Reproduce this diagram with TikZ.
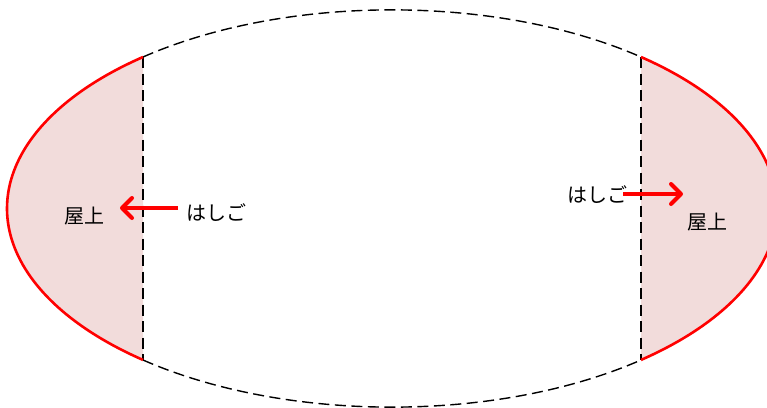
\documentclass[tikz,border=0pt]{standalone}
\usepackage{fontspec}
\newfontfamily\jpfont{Noto Sans CJK JP}
\usetikzlibrary{arrows.meta}
\definecolor{roofpink}{HTML}{F2DCDB}
\definecolor{roofred}{HTML}{FF0000}
\tikzset{
  roofarc/.style={draw=roofred, line width=2.6pt},
  roofzone/.style={fill=roofpink},
  wall/.style={draw=black, line width=1.4pt, dash pattern=on 11pt off 5.5pt},
  label/.style={font=\jpfont\fontsize{20}{24}\selectfont, inner sep=0pt},
  ladder/.style={draw=roofred, line width=4pt, -{Straight Barb[length=10pt,width=20pt,round]}}
}
\begin{document}
\begin{tikzpicture}[x=1pt,y=1pt]
\clip (0,0) rectangle (767,-407);
\useasboundingbox (0,0) rectangle (767,-407);
% shaded roof zones
\fill[roofzone] (143,-57) arc[start angle=130.3, end angle=229.7, x radius=385pt, y radius=198.6pt] -- cycle;
\fill[roofzone] (641,-57) arc[start angle=49.7, end angle=-49.7, x radius=385pt, y radius=198.6pt] -- cycle;
% dashed outline
\draw[wall] (143,-57) arc[start angle=130.3, end angle=49.7, x radius=385pt, y radius=198.6pt];
\draw[wall] (143,-360) arc[start angle=229.7, end angle=310.3, x radius=385pt, y radius=198.6pt];
\draw[wall] (143,-57) -- (143,-360);
\draw[wall] (641,-57) -- (641,-360);
% red roof edges
\draw[roofarc] (143,-57) arc[start angle=130.3, end angle=229.7, x radius=385pt, y radius=198.6pt];
\draw[roofarc] (641,-57) arc[start angle=49.7, end angle=-49.7, x radius=385pt, y radius=198.6pt];
% labels
\node[label] (rl) at (84.5,-216) {屋上};
\node[label] (hl) at (216.5,-212.5) {はしご};
\node[label] (hr) at (597,-195) {はしご};
\node[label] (rr) at (707.5,-222) {屋上};
% arrows
\coordinate (la0) at (178,-208);
\coordinate (la1) at (120,-208);
\coordinate (ra0) at (623,-194);
\coordinate (ra1) at (683,-194);
\draw[ladder] (la0) -- (la1);
\draw[ladder] (ra0) -- (ra1);
\end{tikzpicture}
\end{document}
